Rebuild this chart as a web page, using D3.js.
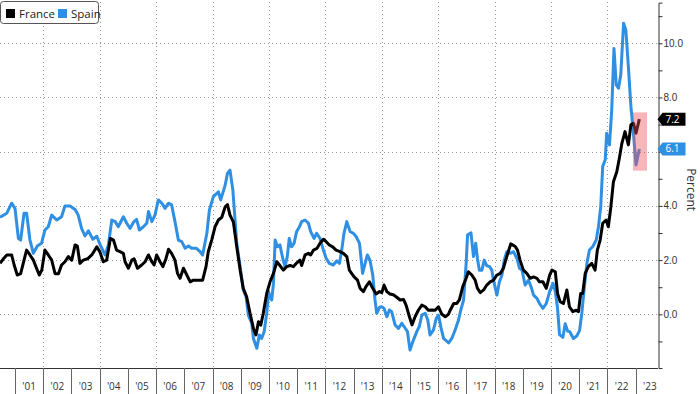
<!DOCTYPE html>
<html>
<head>
<meta charset="utf-8">
<script src="https://cdn.jsdelivr.net/npm/d3@7"></script>
<style>
  body { margin: 0; background: #fff; }
  svg { display: block; font-family: "Open Sans", sans-serif; }
  .grid line { stroke: #9a9a9a; stroke-dasharray: 1,3; }
</style>
</head>
<body>
<svg id="chart" width="700" height="394"></svg>
<script>
// values: [decimal year, percent]
const france = [[2000.47,1.88],[2000.59,2.05],[2000.71,2.19],[2000.88,2.19],[2000.97,1.82],[2001.08,1.45],[2001.2,1.5],[2001.32,2.0],[2001.41,2.37],[2001.53,2.19],[2001.65,2.0],[2001.74,1.76],[2001.86,1.45],[2001.95,1.63],[2002.06,2.37],[2002.18,2.19],[2002.3,2.0],[2002.42,1.5],[2002.54,1.5],[2002.65,1.82],[2002.77,1.94],[2002.89,2.13],[2003.01,2.0],[2003.13,2.56],[2003.21,2.52],[2003.3,1.88],[2003.42,2.0],[2003.57,2.05],[2003.72,2.19],[2003.9,2.49],[2004.01,2.3],[2004.13,1.94],[2004.25,2.0],[2004.38,2.8],[2004.49,2.74],[2004.6,2.37],[2004.72,2.31],[2004.84,2.25],[2004.9,1.94],[2005.02,1.7],[2005.14,2.0],[2005.22,2.05],[2005.34,1.7],[2005.49,1.82],[2005.61,1.94],[2005.73,2.19],[2005.85,1.94],[2005.93,1.82],[2006.02,2.19],[2006.14,1.94],[2006.24,1.76],[2006.35,2.05],[2006.44,2.4],[2006.55,2.25],[2006.67,2.0],[2006.76,1.51],[2006.85,1.33],[2006.97,1.7],[2007.09,1.45],[2007.21,1.2],[2007.32,1.26],[2007.44,1.26],[2007.54,1.26],[2007.65,1.26],[2007.77,1.76],[2007.85,2.31],[2007.97,2.74],[2008.09,3.23],[2008.21,3.48],[2008.33,3.58],[2008.45,3.97],[2008.53,4.05],[2008.62,3.66],[2008.74,3.4],[2008.86,2.49],[2008.98,1.63],[2009.09,0.96],[2009.21,0.65],[2009.33,0.04],[2009.45,-0.52],[2009.54,-0.76],[2009.63,-0.27],[2009.71,-0.4],[2009.8,0.04],[2009.92,0.77],[2010.04,1.2],[2010.16,1.51],[2010.28,1.94],[2010.39,1.8],[2010.51,1.63],[2010.63,1.76],[2010.75,1.8],[2010.87,1.76],[2010.99,1.9],[2011.1,2.0],[2011.16,1.8],[2011.28,2.19],[2011.4,2.25],[2011.48,2.19],[2011.58,2.37],[2011.7,2.43],[2011.81,2.62],[2011.93,2.77],[2012.03,2.68],[2012.14,2.56],[2012.26,2.49],[2012.38,2.37],[2012.52,2.31],[2012.64,2.25],[2012.76,2.13],[2012.85,1.63],[2012.93,1.51],[2013.02,1.38],[2013.14,1.26],[2013.23,0.96],[2013.35,0.84],[2013.44,1.02],[2013.56,1.2],[2013.68,0.96],[2013.8,0.75],[2013.92,0.84],[2014.0,0.8],[2014.08,1.08],[2014.18,0.84],[2014.29,0.75],[2014.41,0.72],[2014.53,0.63],[2014.65,0.53],[2014.77,0.55],[2014.86,0.34],[2014.98,-0.09],[2015.07,-0.39],[2015.18,-0.09],[2015.3,0.16],[2015.42,0.34],[2015.54,0.28],[2015.65,0.15],[2015.77,0.16],[2015.89,0.15],[2016.01,0.28],[2016.13,0.0],[2016.25,-0.09],[2016.36,0.0],[2016.43,0.16],[2016.55,0.4],[2016.66,0.4],[2016.75,0.53],[2016.87,1.02],[2016.99,1.33],[2017.07,1.57],[2017.19,1.45],[2017.31,1.26],[2017.39,0.96],[2017.49,0.8],[2017.61,0.9],[2017.72,1.08],[2017.84,1.2],[2017.96,1.26],[2018.08,1.45],[2018.2,1.51],[2018.31,1.7],[2018.43,2.13],[2018.57,2.6],[2018.73,2.5],[2018.81,2.37],[2018.9,2.0],[2019.02,1.63],[2019.14,1.51],[2019.26,1.33],[2019.38,1.38],[2019.5,1.33],[2019.59,1.2],[2019.71,1.2],[2019.83,0.96],[2019.95,1.45],[2020.03,1.63],[2020.15,1.57],[2020.23,0.77],[2020.32,0.47],[2020.44,0.4],[2020.56,0.9],[2020.65,0.28],[2020.77,0.1],[2020.89,0.15],[2020.97,0.1],[2021.05,0.77],[2021.12,0.77],[2021.21,1.51],[2021.32,1.76],[2021.44,1.88],[2021.56,1.63],[2021.64,2.37],[2021.74,2.74],[2021.83,3.36],[2021.95,3.48],[2022.03,3.23],[2022.12,3.97],[2022.21,4.89],[2022.33,5.26],[2022.42,5.76],[2022.51,6.31],[2022.62,6.74],[2022.74,6.25],[2022.83,6.99],[2022.92,7.05],[2023.01,6.68],[2023.13,7.2]];

const spain = [[2000.47,3.58],[2000.71,3.73],[2000.88,4.1],[2001.0,3.91],[2001.12,2.8],[2001.2,2.74],[2001.32,3.73],[2001.41,3.73],[2001.53,2.74],[2001.65,2.25],[2001.79,2.52],[2001.94,2.62],[2002.06,3.11],[2002.18,3.23],[2002.3,3.66],[2002.48,3.48],[2002.65,3.6],[2002.77,4.0],[2002.95,4.0],[2003.13,3.87],[2003.24,3.66],[2003.36,3.17],[2003.48,2.89],[2003.6,3.08],[2003.76,2.77],[2003.9,2.88],[2004.02,2.56],[2004.19,2.19],[2004.31,2.56],[2004.43,3.48],[2004.55,3.42],[2004.66,3.23],[2004.84,3.6],[2004.96,3.36],[2005.08,3.17],[2005.2,3.4],[2005.31,3.5],[2005.41,3.11],[2005.55,3.23],[2005.67,3.36],[2005.73,3.79],[2005.85,3.42],[2005.96,3.66],[2006.08,4.22],[2006.2,4.1],[2006.32,3.91],[2006.44,4.1],[2006.55,4.04],[2006.67,3.42],[2006.79,2.74],[2006.91,2.68],[2007.03,2.44],[2007.15,2.52],[2007.26,2.44],[2007.42,2.44],[2007.56,2.31],[2007.65,2.19],[2007.8,2.99],[2007.89,3.85],[2008.03,4.34],[2008.21,4.52],[2008.29,4.22],[2008.45,4.77],[2008.53,5.2],[2008.62,5.32],[2008.72,4.6],[2008.8,3.48],[2008.86,2.62],[2008.98,1.76],[2009.09,0.9],[2009.19,0.65],[2009.27,-0.03],[2009.39,-0.33],[2009.45,-0.89],[2009.57,-1.25],[2009.66,-0.76],[2009.74,-0.89],[2009.83,-0.64],[2009.92,0.04],[2009.99,0.83],[2010.04,0.65],[2010.1,0.53],[2010.16,1.14],[2010.22,2.74],[2010.3,2.49],[2010.39,2.56],[2010.49,2.06],[2010.57,1.76],[2010.65,2.13],[2010.72,2.8],[2010.8,2.49],[2010.89,2.62],[2010.98,3.05],[2011.08,3.23],[2011.16,3.42],[2011.28,3.48],[2011.4,3.36],[2011.48,3.05],[2011.6,2.8],[2011.69,2.99],[2011.81,2.8],[2011.93,2.37],[2012.03,2.06],[2012.14,1.88],[2012.28,1.82],[2012.4,1.97],[2012.5,1.88],[2012.58,2.37],[2012.66,2.99],[2012.76,3.42],[2012.88,3.05],[2012.99,2.99],[2013.09,2.87],[2013.21,2.62],[2013.32,1.51],[2013.41,1.88],[2013.49,2.19],[2013.58,2.0],[2013.68,1.45],[2013.76,0.53],[2013.82,0.04],[2013.92,0.26],[2014.0,0.28],[2014.08,0.22],[2014.18,-0.09],[2014.27,0.16],[2014.35,0.1],[2014.47,-0.39],[2014.59,-0.52],[2014.71,-0.33],[2014.79,-0.45],[2014.91,-0.64],[2015.0,-1.32],[2015.12,-0.95],[2015.24,-0.64],[2015.33,-0.45],[2015.42,-0.03],[2015.54,0.04],[2015.63,-0.21],[2015.71,-0.76],[2015.83,-0.58],[2015.93,-0.15],[2016.01,-0.03],[2016.1,-0.5],[2016.19,-0.89],[2016.37,-1.05],[2016.48,-0.89],[2016.6,-0.58],[2016.72,-0.21],[2016.8,0.16],[2016.9,0.53],[2016.99,1.88],[2017.04,2.93],[2017.16,3.01],[2017.25,2.13],[2017.33,2.62],[2017.39,2.06],[2017.46,1.63],[2017.55,1.63],[2017.63,2.0],[2017.72,1.8],[2017.82,1.76],[2017.9,1.63],[2017.96,1.26],[2018.08,0.71],[2018.17,1.2],[2018.26,1.45],[2018.34,2.0],[2018.43,2.31],[2018.55,2.25],[2018.67,2.31],[2018.79,2.06],[2018.88,1.7],[2018.97,1.63],[2019.08,1.08],[2019.2,1.26],[2019.29,1.02],[2019.38,0.71],[2019.5,0.59],[2019.59,0.4],[2019.71,0.22],[2019.83,0.4],[2019.95,0.84],[2020.07,1.14],[2020.15,0.84],[2020.23,0.22],[2020.3,-0.75],[2020.42,-0.85],[2020.5,-0.35],[2020.59,-0.62],[2020.67,-0.65],[2020.79,-0.89],[2020.91,-0.8],[2021.01,-0.6],[2021.09,0.04],[2021.17,0.9],[2021.27,1.88],[2021.36,2.37],[2021.48,2.5],[2021.6,2.74],[2021.68,3.23],[2021.76,3.97],[2021.83,5.45],[2021.92,5.7],[2021.97,6.68],[2022.07,6.25],[2022.15,7.54],[2022.23,9.81],[2022.31,8.46],[2022.39,8.34],[2022.47,8.83],[2022.57,10.74],[2022.65,10.49],[2022.74,9.14],[2022.83,7.66],[2022.92,6.68],[2023.01,5.51],[2023.13,6.1]];

const years = d3.range(2001, 2024);
const yearLabels = years.map(y => "'" + String(y).slice(2));
const yTicks = [0, 2, 4, 6, 8, 10];
const lastLabels = [{ text: "7.2", value: 7.2, color: "#000" }, { text: "6.1", value: 6.1, color: "#2f8fe3" }];
const highlight = { from: 2022.9, to: 2023.4, low: 5.3, high: 7.45 };

const colors = { France: "#000", Spain: "#2f8fe3" };

const svg = d3.select("#chart");
const plotRight = 658;
const plotBottom = 368;

const x = d3.scaleLinear().domain([2000.468, 2023.79]).range([0, plotRight]);
const y = d3.scaleLinear().domain([-1.98, 11.5]).range([plotBottom, 2.6]);

// grid
const grid = svg.append("g").attr("class", "grid");
grid.selectAll(".h").data(yTicks).enter().append("line")
  .attr("x1", 0).attr("x2", plotRight)
  .attr("y1", d => Math.round(y(d)) + 0.5).attr("y2", d => Math.round(y(d)) + 0.5);
grid.selectAll(".v").data(years.filter(d => d % 2 === 0)).enter().append("line")
  .attr("x1", d => Math.round(x(d)) + 0.5).attr("x2", d => Math.round(x(d)) + 0.5)
  .attr("y1", 2).attr("y2", plotBottom);

// lines
const line = d3.line().x(d => x(d[0])).y(d => y(d[1]));
svg.append("path").datum(spain)
  .attr("fill", "none").attr("stroke", colors.Spain).attr("stroke-width", 3)
  .attr("stroke-linejoin", "round").attr("d", line);
svg.append("path").datum(france)
  .attr("fill", "none").attr("stroke", colors.France).attr("stroke-width", 3)
  .attr("stroke-linejoin", "round").attr("d", line);

// highlight box over the latest months
svg.append("rect")
  .attr("x", x(highlight.from)).attr("y", y(highlight.high))
  .attr("width", x(highlight.to) - x(highlight.from))
  .attr("height", y(highlight.low) - y(highlight.high))
  .attr("fill", "rgb(236,80,90)").attr("opacity", 0.42);

// bottom axis
svg.append("line").attr("x1", 0).attr("x2", plotRight)
  .attr("y1", plotBottom + 0.5).attr("y2", plotBottom + 0.5).attr("stroke", "#333");
svg.selectAll(".ytick").data(years).enter().append("line")
  .attr("x1", d => Math.round(x(d)) + 0.5).attr("x2", d => Math.round(x(d)) + 0.5)
  .attr("y1", plotBottom).attr("y2", 394).attr("stroke", "#666");
svg.selectAll(".ylab").data(years).enter().append("text")
  .attr("x", d => x(d + 0.5)).attr("y", 390)
  .attr("text-anchor", "middle").attr("font-size", 10).attr("fill", "#333")
  .text((d, i) => yearLabels[i]);

// right axis (the 6.0 label sits under the Spain tag, so it is left out)
const yAxis = svg.append("g").attr("transform", "translate(" + (plotRight + 0.5) + ",0)");
yAxis.call(d3.axisRight(y).tickValues(d3.range(-1, 12)).tickSize(4).tickFormat(""));
yAxis.select(".domain").attr("stroke", "#333");
yAxis.selectAll(".tick line").attr("stroke", "#333");
const hidden = lastLabels.map(d => d.value);
yAxis.selectAll(".major").data(yTicks.filter(t => !hidden.some(v => Math.abs(v - t) < 0.5))).enter().append("text")
  .attr("x", 5).attr("y", d => y(d) + 3.5)
  .attr("font-size", 10).attr("fill", "#333")
  .text(d => d.toFixed(1));

svg.append("text")
  .attr("transform", "translate(687," + y(4.6) + ") rotate(90)")
  .attr("text-anchor", "middle").attr("font-size", 12).attr("fill", "#333")
  .text("Percent");

// last value tags
const tags = svg.selectAll(".tag").data(lastLabels).enter().append("g")
  .attr("transform", d => "translate(" + (plotRight - 0.5) + "," + y(d.value) + ")");
tags.append("path")
  .attr("d", "M0,0 L5,-6.5 L28,-6.5 L28,6.5 L5,6.5 Z")
  .attr("fill", d => d.color);
tags.append("text")
  .attr("x", 8).attr("y", 3.5).attr("font-size", 10).attr("fill", "#fff")
  .text(d => d.text);

// legend
const legend = svg.append("g");
legend.append("rect").attr("x", 0.5).attr("y", 1.5).attr("width", 98).attr("height", 22)
  .attr("rx", 3).attr("fill", "#fff").attr("stroke", "#555");
const items = [["France", 6], ["Spain", 58]];
items.forEach(([name, lx]) => {
  legend.append("rect").attr("x", lx).attr("y", 9).attr("width", 9).attr("height", 9)
    .attr("fill", colors[name]);
  legend.append("text").attr("x", lx + 13).attr("y", 17.5)
    .attr("font-size", 11.5).attr("fill", "#222").text(name);
});
</script>
</body>
</html>
